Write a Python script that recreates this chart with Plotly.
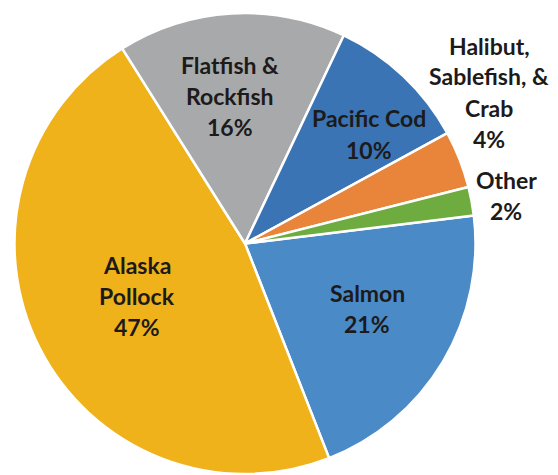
import plotly.graph_objects as go

# Catch share by species group (percent)
species = ["Salmon", "Alaska<br>Pollock", "Flatfish &<br>Rockfish", "Pacific Cod",
           "Halibut,<br>Sablefish, &<br>Crab", "Other"]
shares = [21, 47, 16, 10, 4, 2]
colors = ["#4a8ac6", "#f0b21b", "#a7a9aa", "#3a74b4", "#e8853a", "#6fac3f"]

W, H = 558, 475

# label anchor points in pixels (centre of each text block)
label_pos = [(367, 308), (137, 296), (230, 96), (369, 134), (489, 92), (506, 195)]
line_gap = 31
font = dict(family="Lato", size=23, color="#1c1a1a")

fig = go.Figure(go.Pie(
    labels=species,
    values=shares,
    sort=False,
    direction="clockwise",
    rotation=83,
    marker=dict(colors=colors, line=dict(color="white", width=2.5)),
    textinfo="none",
    hoverinfo="label+percent",
    domain=dict(x=[14 / W, 476 / W], y=[1 / H, 462 / H]),
))

annotations = []
for name, val, (px, py) in zip(species, shares, label_pos):
    lines = name.split("<br>") + [f"{val}%"]
    n = len(lines)
    for i, line in enumerate(lines):
        y = py + (i - (n - 1) / 2) * line_gap
        annotations.append(dict(
            x=px / W, y=1 - y / H, xref="paper", yref="paper",
            text=f"<b>{line}</b>", showarrow=False,
            xanchor="center", yanchor="middle", font=font,
        ))

fig.update_layout(
    width=W, height=H,
    margin=dict(l=0, r=0, t=0, b=0),
    paper_bgcolor="white", plot_bgcolor="white",
    showlegend=False,
    annotations=annotations,
)

fig.write_html("out.html")
